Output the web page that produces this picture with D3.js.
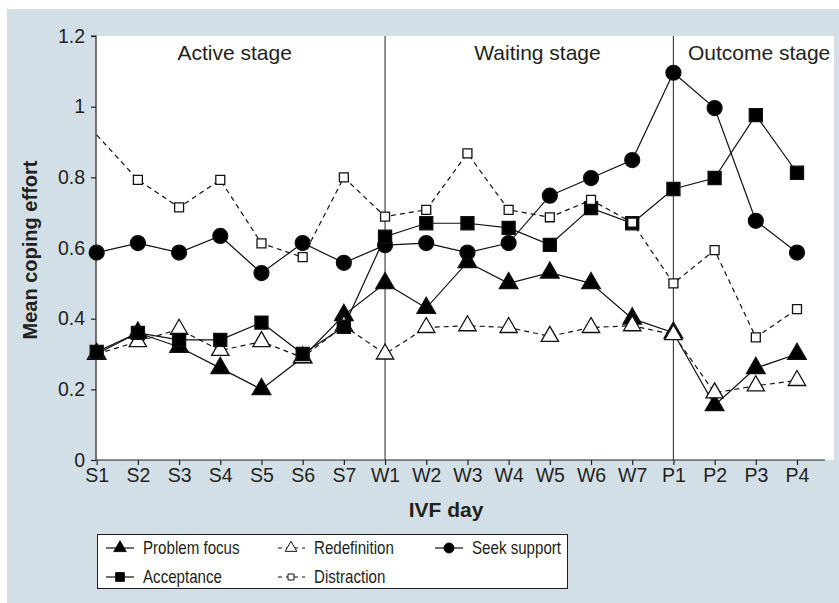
<!DOCTYPE html>
<html>
<head>
<meta charset="utf-8">
<script src="https://cdn.jsdelivr.net/npm/d3@7"></script>
<style>
  body { margin: 0; background: #fff; }
  svg text { font-family: "Liberation Sans", Arial, sans-serif; fill: #231f20; }
</style>
</head>
<body>
<div id="vis"></div>
<script>
// IVF coping effort by day, five coping styles

const days = ["S1", "S2", "S3", "S4", "S5", "S6", "S7", "W1", "W2", "W3", "W4", "W5", "W6", "W7", "P1", "P2", "P3", "P4"];
const yTicks = [0, 0.2, 0.4, 0.6, 0.8, 1, 1.2];

const problemFocus = [0.30, 0.36, 0.32, 0.26, 0.20, 0.29, 0.41, 0.50, 0.43, 0.56, 0.50, 0.53, 0.50, 0.40, 0.36, 0.155, 0.26, 0.30];
const redefinition = [0.30, 0.335, 0.37, 0.31, 0.335, 0.29, 0.38, 0.30, 0.375, 0.38, 0.375, 0.35, 0.375, 0.38, 0.355, 0.19, 0.21, 0.225];
const seekSupport = [0.587, 0.614, 0.587, 0.634, 0.529, 0.614, 0.558, 0.608, 0.614, 0.587, 0.614, 0.748, 0.798, 0.849, 1.096, 0.996, 0.677, 0.587];
const acceptance = [0.306, 0.36, 0.34, 0.34, 0.389, 0.30, 0.377, 0.632, 0.67, 0.67, 0.657, 0.609, 0.713, 0.67, 0.767, 0.798, 0.976, 0.813];
const distraction = [0.92, 0.793, 0.715, 0.793, 0.613, 0.574, 0.80, 0.689, 0.708, 0.868, 0.708, 0.687, 0.736, 0.672, 0.50, 0.594, 0.347, 0.427];

const stages = [
    {label: "Active stage", at: 3.35},
    {label: "Waiting stage", at: 10.7},
    {label: "Outcome stage", at: 16.08}
];
const stageBreaks = ["W1", "P1"];

const series = [
    {name: "Problem focus", values: problemFocus, symbol: d3.symbolTriangle, size: 150, fill: "#000", dash: null},
    {name: "Redefinition", values: redefinition, symbol: d3.symbolTriangle, size: 130, fill: "#fff", dash: "5,4"},
    {name: "Seek support", values: seekSupport, symbol: d3.symbolCircle, size: 175, fill: "#000", dash: null},
    {name: "Acceptance", values: acceptance, symbol: d3.symbolSquare, size: 170, fill: "#000", dash: null},
    {name: "Distraction", values: distraction, symbol: d3.symbolSquare, size: 80, fill: "#fff", dash: "5,4"}
];

const width = 839;
const height = 603;
const plot = {left: 96, top: 36, right: 834, bottom: 460};

const xScale = d3.scalePoint().domain(days).range([96.7, 797]);
const yScale = d3.scaleLinear().domain([0, 1.2]).range([plot.bottom, plot.top]);

const svg = d3.select("#vis").append("svg").attr("width", width).attr("height", height);

// backgrounds
svg.append("rect").attr("x", 7).attr("y", 9).attr("width", width - 7).attr("height", height - 9).attr("fill", "#d3dfe7");
svg.append("rect").attr("x", plot.left).attr("y", plot.top)
    .attr("width", plot.right - plot.left).attr("height", plot.bottom - plot.top).attr("fill", "#fff");

// axes
const yAxis = d3.axisLeft(yScale).tickValues(yTicks).tickSize(5).tickPadding(6).tickFormat(d => d3.format("")(d));
const yAxisG = svg.append("g").attr("transform", `translate(${plot.left},0)`).call(yAxis);
yAxisG.select(".domain").attr("d", `M-5,${plot.top}H0V${plot.bottom}`);

const xAxis = d3.axisBottom(xScale).tickSize(5).tickPadding(3);
const xAxisG = svg.append("g").attr("transform", `translate(0,${plot.bottom})`).call(xAxis);
xAxisG.select(".domain").attr("d", `M${plot.left},0H825`);

[yAxisG, xAxisG].forEach(g => {
    g.selectAll("text").attr("font-size", 19.5).style("fill", "#231f20");
    g.selectAll("line, path").attr("stroke", "#231f20").attr("stroke-width", 1.2);
});
xAxisG.selectAll("text").attr("dy", "0.72em");

// stage separators
svg.selectAll("line.stage").data(stageBreaks).enter().append("line")
    .attr("class", "stage")
    .attr("x1", d => xScale(d)).attr("x2", d => xScale(d))
    .attr("y1", plot.top).attr("y2", plot.bottom)
    .attr("stroke", "#444").attr("stroke-width", 1.2);

const stepX = xScale.step();
svg.selectAll("text.stage").data(stages).enter().append("text")
    .attr("class", "stage")
    .attr("x", d => xScale(days[0]) + d.at * stepX)
    .attr("y", 60)
    .attr("text-anchor", "middle")
    .attr("font-size", 21)
    .text(d => d.label);

// lines and markers
const line = d3.line().x((d, i) => xScale(days[i])).y(d => yScale(d));

series.forEach(s => {
    svg.append("path").datum(s.values)
        .attr("d", line)
        .attr("fill", "none")
        .attr("stroke", "#111")
        .attr("stroke-width", 1.2)
        .attr("stroke-dasharray", s.dash);
});

series.forEach(s => {
    // the first distraction marker sits on the axis and is not drawn
    const pts = s.name === "Distraction" ? s.values.slice(1).map((v, i) => [i + 1, v]) : s.values.map((v, i) => [i, v]);
    svg.selectAll(null).data(pts).enter().append("path")
        .attr("transform", d => `translate(${xScale(days[d[0]])},${yScale(d[1])})`)
        .attr("d", d3.symbol().type(s.symbol).size(s.size))
        .attr("fill", s.fill)
        .attr("stroke", "#111")
        .attr("stroke-width", 1.3);
});

// axis titles
svg.append("text").attr("x", 446).attr("y", 517).attr("text-anchor", "middle")
    .attr("font-size", 21).attr("font-weight", "bold").text("IVF day");
svg.append("text").attr("transform", "translate(37,250) rotate(-90)").attr("text-anchor", "middle")
    .attr("font-size", 20).attr("font-weight", "bold").text("Mean coping effort");

// legend (condensed type, squeezed horizontally)
const legend = svg.append("g").attr("class", "legend");
legend.append("rect").attr("x", 97.5).attr("y", 534.5).attr("width", 470).attr("height", 54)
    .attr("fill", "#fff").attr("stroke", "#231f20").attr("stroke-width", 1);

const legendPos = [[106, 548], [277, 548], [435, 548], [106, 577], [277, 577]];
series.forEach((s, i) => {
    const [lx, ly] = legendPos[i];
    const item = legend.append("g").attr("transform", `translate(${lx},${ly})`);
    item.append("line").attr("x1", 0).attr("x2", 28).attr("y1", 0).attr("y2", 0)
        .attr("stroke", "#111").attr("stroke-width", 1.2)
        .attr("stroke-dasharray", s.dash ? "4,4" : null)
        .attr("stroke-dashoffset", s.dash ? -1 : null);
    item.append("path").attr("transform", "translate(14,0)")
        .attr("d", d3.symbol().type(s.symbol).size(s.size * 0.45))
        .attr("fill", s.fill).attr("stroke", "#111").attr("stroke-width", 1);
    item.append("text").attr("transform", "translate(37,0) scale(0.84,1)").attr("dy", "0.35em")
        .attr("font-size", 18).text(s.name);
});
</script>
</body>
</html>
